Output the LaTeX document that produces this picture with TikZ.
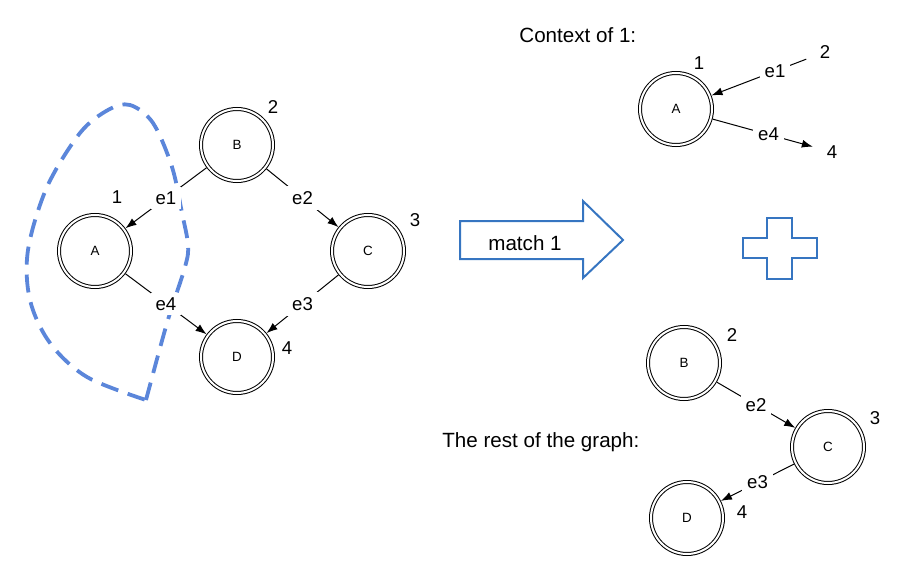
\documentclass[tikz,border=0pt]{standalone}
\usepackage{fontspec}
\setmainfont{Liberation Sans}
\usetikzlibrary{arrows.meta}
\definecolor{dashblue}{RGB}{91,134,218}
\definecolor{arrblue}{RGB}{54,117,193}

\begin{document}
\begin{tikzpicture}[x=0.5pt,y=-0.5pt,>={Latex[length=5.5pt,width=4pt]},
    vertex/.style={circle,draw,double,double distance=1pt,line width=0.5pt,minimum size=36pt,inner sep=0pt,outer sep=1pt,font=\fontsize{6.7}{7}\selectfont},
    num/.style={inner sep=1pt,font=\fontsize{9.3}{11}\selectfont},
    lbl/.style={fill=white,inner sep=2.5pt,font=\fontsize{9.3}{11}\selectfont},
    edge/.style={->,line width=0.5pt},
    caption/.style={inner sep=0pt,font=\fontsize{10.3}{12}\selectfont},
    blueshape/.style={draw=arrblue,line width=1pt,line join=miter}]
  \useasboundingbox(0,0)rectangle(900,567);
  % matched part, drawn first so the labels cover it
  \draw[dashblue,line width=1.9pt,dash pattern=on 9pt off 5pt,line join=miter]
    plot[smooth,tension=0.55]coordinates{(146,400)(167,323)(185,267)(188,245)(182,213)(172,167)(153,123)(130,105)(108,110)(80,133)(47,187)(28,250)(30,300)(50,343)(87,377)(146,400)};
  % whole graph
  \node[vertex](A)at(95,251){A};
  \node[vertex](B)at(237,145){B};
  \node[vertex](C)at(368,251){C};
  \node[vertex](D)at(237,357){D};
  \node[num](n1)at(117,197){1};
  \node[num](n2)at(273,107){2};
  \node[num](n3)at(415,220){3};
  \node[num](n4)at(287,348){4};
  \draw[edge](B)--node[lbl]{e1}(A);
  \draw[edge](B)--node[lbl]{e2}(C);
  \draw[edge](C)--node[lbl]{e3}(D);
  \draw[edge](A)--node[lbl]{e4}(D);
  % match arrow and plus
  \draw[blueshape](460,221)--(583,221)--(583,201)--(623,240)--(583,278)--(583,259)--(460,259)--cycle;
  \node[caption](match)at(525,243){match 1};
  \draw[blueshape](767,218)--(792,218)--(792,238)--(817,238)--(817,258)--(792,258)--(792,279)--(767,279)--(767,258)--(743,258)--(743,238)--(767,238)--cycle;
  % context of 1
  \node[caption,anchor=west](ctx)at(519,35){Context of 1:};
  \node[vertex](cA)at(676,109){A};
  \node[num](c1)at(699,63){1};
  \node[num](c2)at(825,52){2};
  \node[num](c4)at(832,152){4};
  \draw[edge,shorten <=6pt](c2)--node[lbl,pos=0.4]{e1}(cA);
  \draw[edge,shorten >=6pt](cA)--node[lbl]{e4}(c4);
  % rest of the graph
  \node[caption,anchor=west](rest)at(442,442){The rest of the graph:};
  \node[vertex](rB)at(684,363){B};
  \node[vertex](rC)at(828,447){C};
  \node[vertex](rD)at(687,518){D};
  \node[num](r2)at(732,335){2};
  \node[num](r3)at(875,418){3};
  \node[num](r4)at(742,512){4};
  \draw[edge](rB)--node[lbl]{e2}(rC);
  \draw[edge](rC)--node[lbl]{e3}(rD);
\end{tikzpicture}
\end{document}
